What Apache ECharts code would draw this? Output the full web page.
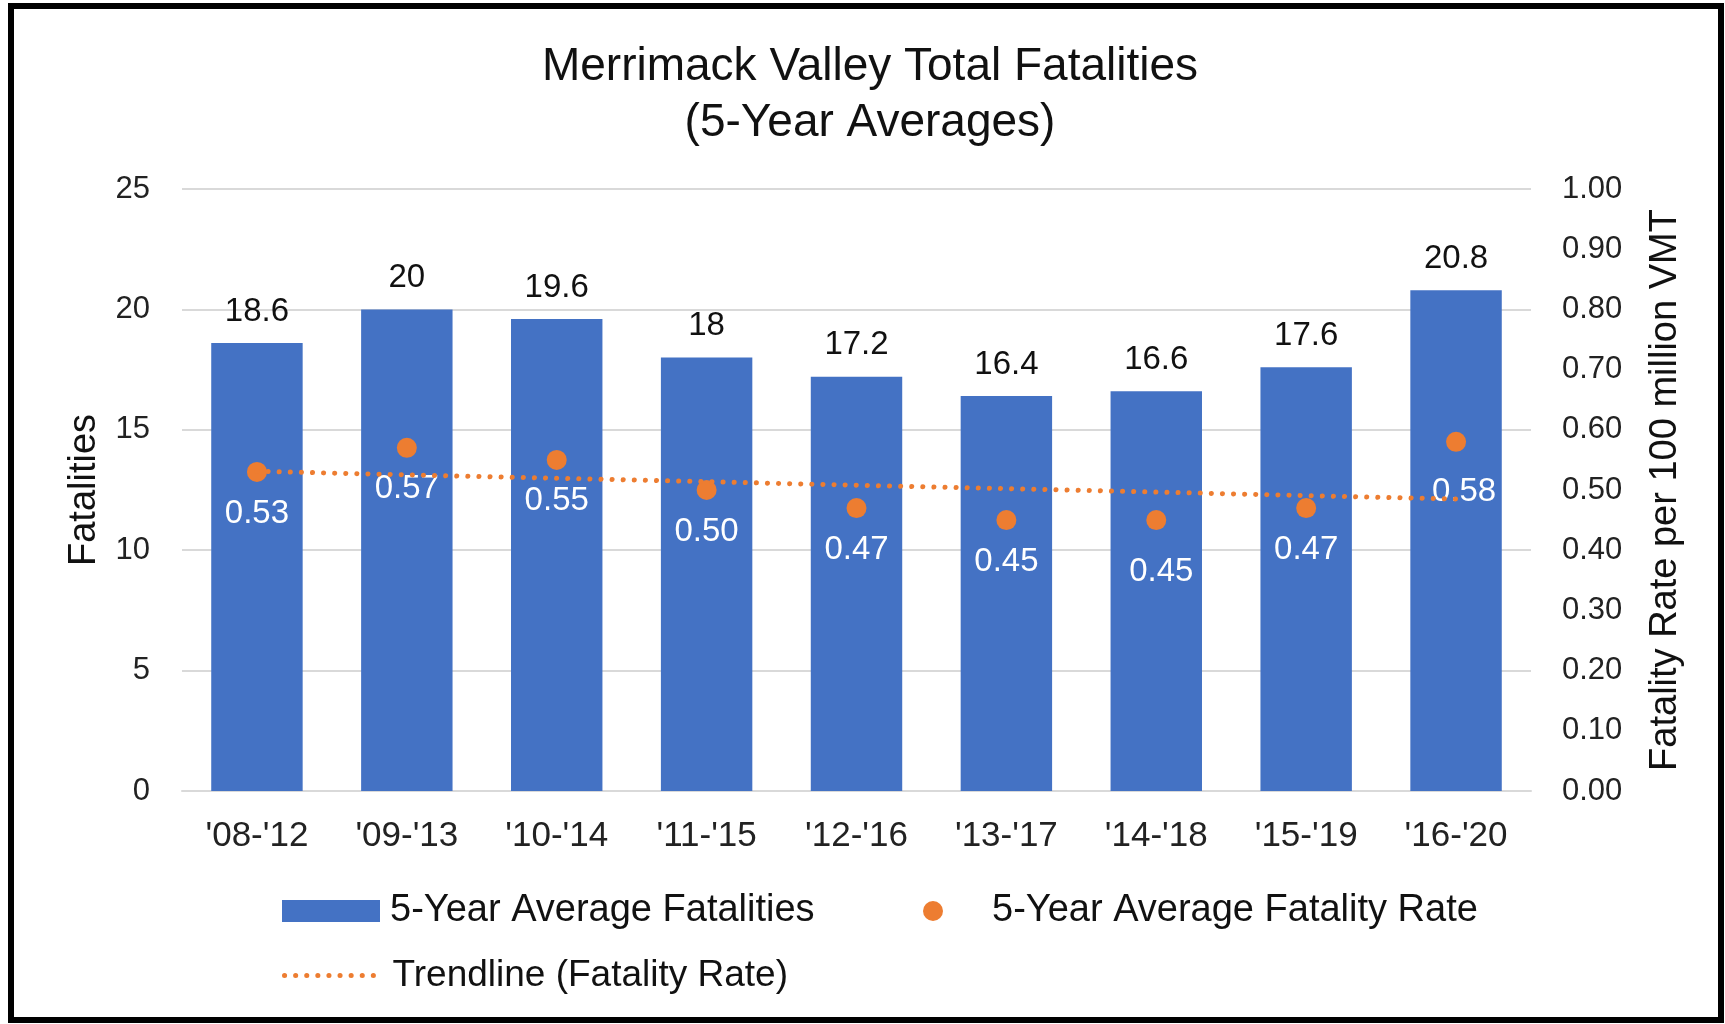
<!DOCTYPE html>
<html>
<head>
<meta charset="utf-8">
<title>Merrimack Valley Total Fatalities</title>
<script src="https://cdn.jsdelivr.net/npm/echarts@6/dist/echarts.min.js"></script>
<style>
  html, body { margin: 0; padding: 0; background: #fff; }
  #chart { width: 1725px; height: 1024px; }
  .frame { position: absolute; left: 8px; top: 3px; width: 1704px; height: 1008px; border: 6px solid #000; pointer-events: none; }
</style>
</head>
<body>
<div id="chart"></div>
<div class="frame"></div>
<script>
// 5-year windows
var periods = ["'08-'12", "'09-'13", "'10-'14", "'11-'15", "'12-'16", "'13-'17", "'14-'18", "'15-'19", "'16-'20"];
// 5-year average fatalities
var fatalities = [18.6, 20, 19.6, 18, 17.2, 16.4, 16.6, 17.6, 20.8];
// fatality rate per 100 million VMT
var rates = [0.53, 0.57, 0.55, 0.50, 0.47, 0.45, 0.45, 0.47, 0.58];
// trendline, only its two ends
var trendline = [0.531, '-', '-', '-', '-', '-', '-', '-', 0.485];

var blue = '#4472C4';
var orange = '#ED7D31';
var font = 'Liberation Sans, Arial, Helvetica, sans-serif';

// a couple of rate labels sit a bit off in the original
var labelNudge = { 6: [5, 10], 8: [8, 9] };

var chart = echarts.init(document.getElementById('chart'));

var option = {
  backgroundColor: '#fff',
  textStyle: { fontFamily: font },
  title: {
    text: 'Merrimack Valley Total Fatalities\n(5-Year Averages)',
    left: 865,
    top: 34,
    textAlign: 'center',
    textStyle: { fontSize: 46, fontWeight: 'normal', lineHeight: 56, color: '#111', fontFamily: font }
  },
  grid: { left: 182, right: 194, top: 189, bottom: 233 },
  legend: [
    {
      data: [{ name: '5-Year Average Fatalities', icon: 'rect' }],
      left: 282, top: 892, padding: 0,
      itemWidth: 98, itemHeight: 22,
      textStyle: { fontSize: 38, color: '#111', padding: [0, 0, 0, 5] }
    },
    {
      data: [{ name: '5-Year Average Fatality Rate', icon: 'circle' }],
      left: 923, top: 892, padding: 0,
      itemWidth: 20, itemHeight: 20,
      itemStyle: { opacity: 1 },
      textStyle: { fontSize: 38, color: '#111', padding: [0, 0, 0, 44] }
    },
    {
      data: ['Trendline (Fatality Rate)'],
      left: 282, top: 957, padding: 0,
      itemWidth: 98, itemHeight: 22,
      itemStyle: { opacity: 0 },
      lineStyle: { color: orange, width: 5, type: [0.1, 11], cap: 'round', opacity: 1 },
      textStyle: { fontSize: 37, color: '#111', padding: [0, 0, 0, 5] }
    }
  ],
  xAxis: {
    type: 'category',
    data: periods,
    axisLine: { lineStyle: { color: '#d9d9d9', width: 2 } },
    axisTick: { show: false },
    axisLabel: { fontSize: 35, color: '#222', margin: 28 }
  },
  yAxis: [
    {
      type: 'value',
      min: 0, max: 25, interval: 5,
      name: 'Fatalities',
      nameLocation: 'middle',
      nameGap: 78,
      nameTextStyle: { fontSize: 38, color: '#111' },
      axisLine: { show: false },
      axisTick: { show: false },
      axisLabel: { fontSize: 31, color: '#222', margin: 32 },
      splitLine: { lineStyle: { color: '#d9d9d9', width: 2 } }
    },
    {
      type: 'value',
      min: 0, max: 1, interval: 0.1,
      name: 'Fatality Rate per 100 million VMT',
      nameLocation: 'middle',
      nameRotate: 90,
      nameGap: 116,
      nameTextStyle: { fontSize: 38, color: '#111' },
      axisLine: { show: false },
      axisTick: { show: false },
      axisLabel: { fontSize: 31, color: '#222', margin: 31, formatter: function (v) { return v.toFixed(2); } },
      splitLine: { show: false }
    }
  ],
  series: [
    {
      name: '5-Year Average Fatalities',
      type: 'bar',
      data: fatalities,
      barWidth: '61%',
      itemStyle: { color: blue },
      label: { show: true, position: 'top', distance: 15, fontSize: 33, color: '#111' },
      z: 2
    },
    {
      name: '5-Year Average Fatality Rate',
      type: 'scatter',
      yAxisIndex: 1,
      data: rates.map(function (v, i) {
        return labelNudge[i] ? { value: v, label: { offset: labelNudge[i] } } : v;
      }),
      symbolSize: 20,
      itemStyle: { color: orange, opacity: 1 },
      label: {
        show: true, position: 'bottom', distance: 15, fontSize: 33, color: '#fff',
        formatter: function (p) { return p.value.toFixed(2); }
      },
      z: 3
    },
    {
      name: 'Trendline (Fatality Rate)',
      type: 'line',
      yAxisIndex: 1,
      data: trendline,
      connectNulls: true,
      symbol: 'none',
      lineStyle: { color: orange, width: 5, type: [0.1, 11], cap: 'round' },
      itemStyle: { color: orange },
      z: 4
    }
  ]
};

chart.setOption(option);
</script>
</body>
</html>
